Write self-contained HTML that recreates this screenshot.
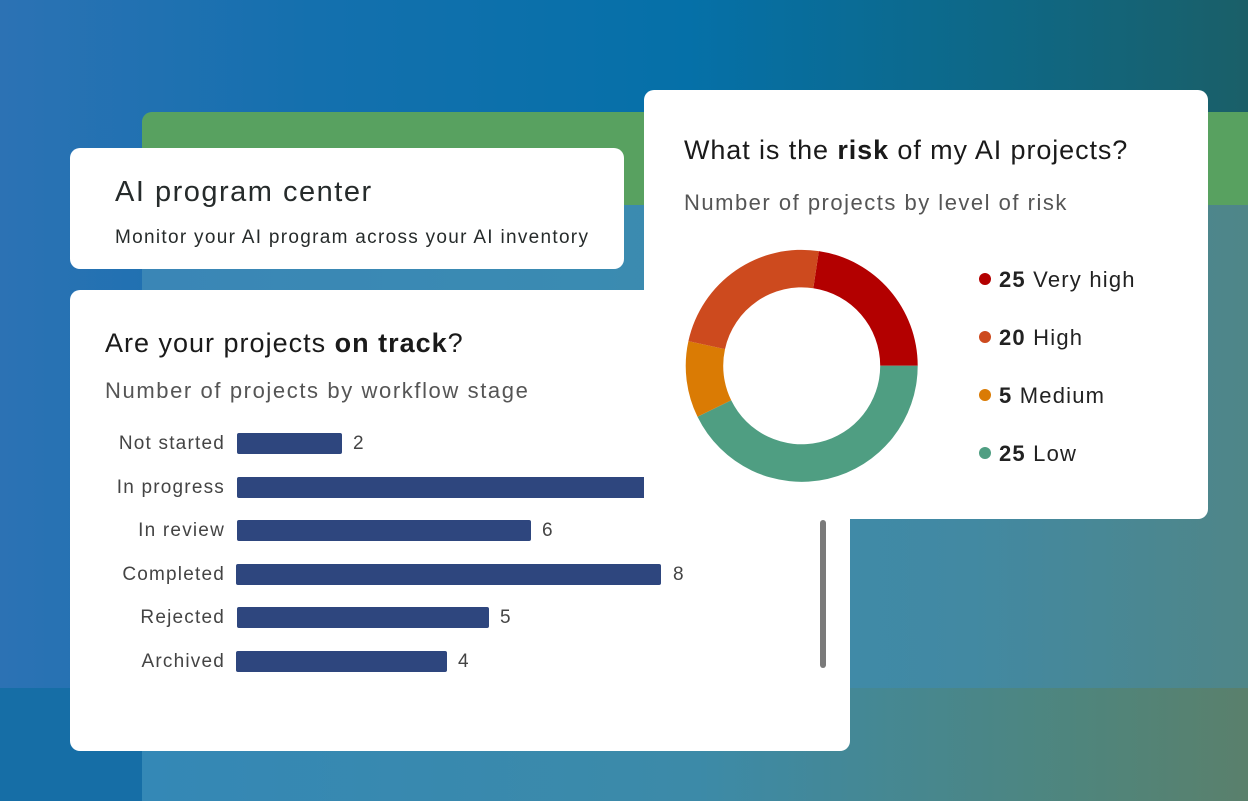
<!DOCTYPE html>
<html><head><meta charset="utf-8"><style>
html,body{margin:0;padding:0;}
body{width:1248px;height:801px;position:relative;overflow:hidden;font-family:"Liberation Sans","DejaVu Sans",sans-serif;
background:linear-gradient(90deg,#2c72b4 0%,#1470ae 25%,#0570a8 55%,#0e6886 80%,#1a5f68 100%);}
.abs{position:absolute;}
.card{position:absolute;background:#fff;border-radius:10px;}
.lbl{position:absolute;right:1023px;font-size:19px;color:#444;white-space:nowrap;letter-spacing:1.2px;}
.bar{position:absolute;left:237px;height:21px;background:#2e467e;border-radius:2px;}
.val{position:absolute;font-size:19px;color:#444;}
.leg{position:absolute;left:999px;font-size:22px;color:#222;white-space:nowrap;letter-spacing:1.2px;}
.dot{position:absolute;left:979px;width:12px;height:12px;border-radius:6px;}
</style></head><body>
<div class="abs" style="left:0;top:688px;width:142px;height:113px;background:#166ea6"></div>
<div class="abs" style="left:142px;top:112px;width:1106px;height:689px;border-top-left-radius:10px;overflow:hidden;background:linear-gradient(90deg,#3a86b6 0%,#3a8bb2 40%,#4289a2 75%,#4f8688 100%)">
  <div class="abs" style="left:0;top:0;width:1106px;height:93px;background:#58a160"></div>
  <div class="abs" style="left:0;top:576px;width:1106px;height:113px;background:linear-gradient(90deg,#3488b6 0%,#3c8aa8 50%,#4f857c 85%,#5a806c 100%)"></div>
</div>

<div class="card" style="left:70px;top:148px;width:554px;height:121px">
  <div class="abs" style="left:45px;top:28px;font-size:29px;color:#262b2b;letter-spacing:1.5px;white-space:nowrap">AI program center</div>
  <div class="abs" style="left:45px;top:79px;font-size:19px;color:#262b2b;letter-spacing:1.3px;white-space:nowrap">Monitor your AI program across your AI inventory</div>
</div>

<div class="card" style="left:70px;top:290px;width:780px;height:461px">
  <div class="abs" style="left:35px;top:38px;font-size:27px;color:#1a1a1a;letter-spacing:1px;white-space:nowrap">Are your projects <b>on track</b>?</div>
  <div class="abs" style="left:35px;top:88px;font-size:22px;color:#555;letter-spacing:1.6px;white-space:nowrap">Number of projects by workflow stage</div>
  <div class="abs" style="left:750px;top:230px;width:6px;height:148px;background:#7a7a7a;border-radius:3px"></div>
</div>

<div class="lbl" style="top:433px">Not started</div>
<div class="bar" style="top:433px;width:105px"></div><div class="val" style="left:353px;top:433px">2</div>
<div class="lbl" style="top:477px">In progress</div>
<div class="bar" style="top:477px;width:430px"></div>
<div class="lbl" style="top:520px">In review</div>
<div class="bar" style="top:520px;width:294px"></div><div class="val" style="left:542px;top:520px">6</div>
<div class="lbl" style="top:564px">Completed</div>
<div class="bar" style="top:564px;width:425px;left:236px"></div><div class="val" style="left:673px;top:564px">8</div>
<div class="lbl" style="top:607px">Rejected</div>
<div class="bar" style="top:607px;width:252px"></div><div class="val" style="left:500px;top:607px">5</div>
<div class="lbl" style="top:651px">Archived</div>
<div class="bar" style="top:651px;width:211px;left:236px"></div><div class="val" style="left:458px;top:651px">4</div>

<div class="card" style="left:644px;top:90px;width:564px;height:429px">
  <div class="abs" style="left:40px;top:45px;font-size:27px;color:#1a1a1a;white-space:nowrap;letter-spacing:0.9px">What is the <b>risk</b> of my AI projects?</div>
  <div class="abs" style="left:40px;top:100px;font-size:22px;color:#555;white-space:nowrap;letter-spacing:1.5px">Number of projects by level of risk</div>
</div>
<svg class="abs" style="left:0;top:0" width="1248" height="801">
<path d="M818.85,251.09 A116,116 0 0 1 917.7,365.8 L880.2,365.8 A78.5,78.5 0 0 0 813.3,288.2 Z" fill="#b30000"/>
<path d="M917.7,365.8 A116,116 0 0 1 697.5,416.8 L731.2,400.3 A78.5,78.5 0 0 0 880.2,365.8 Z" fill="#4f9e82"/>
<path d="M697.5,416.8 A116,116 0 0 1 688.4,341.1 L725,349.1 A78.5,78.5 0 0 0 731.2,400.3 Z" fill="#da7b04"/>
<path d="M688.4,341.1 A116,116 0 0 1 818.85,251.09 L813.3,288.2 A78.5,78.5 0 0 0 725,349.1 Z" fill="#cd4a1e"/>
</svg>
<div class="dot" style="top:273px;background:#b30000"></div><div class="leg" style="top:267px"><b>25</b> Very high</div>
<div class="dot" style="top:331px;background:#cd4a1e"></div><div class="leg" style="top:325px"><b>20</b> High</div>
<div class="dot" style="top:389px;background:#da7b04"></div><div class="leg" style="top:383px"><b>5</b> Medium</div>
<div class="dot" style="top:447px;background:#4f9e82"></div><div class="leg" style="top:441px"><b>25</b> Low</div>
</body></html>
